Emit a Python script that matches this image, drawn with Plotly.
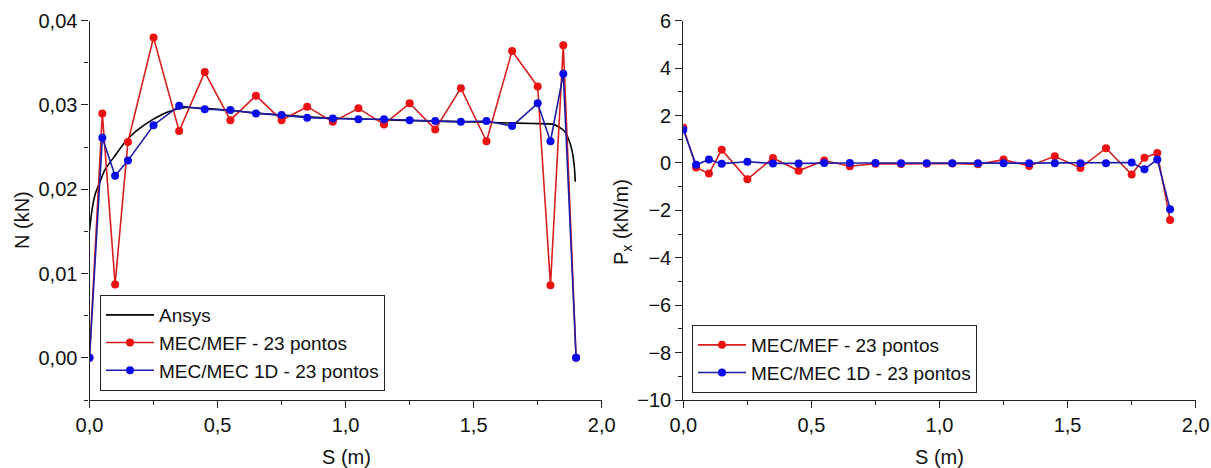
import plotly.graph_objects as go

# ---------------- data ----------------
s_pts = [0.0, 0.05, 0.10, 0.15, 0.25, 0.35, 0.45, 0.55, 0.65, 0.75, 0.85, 0.95,
         1.05, 1.15, 1.25, 1.35, 1.45, 1.55, 1.65, 1.75, 1.80, 1.85, 1.90]

n_mef = [0.0, 0.0290, 0.0087, 0.0256, 0.0380, 0.0269, 0.0339, 0.0282, 0.0311, 0.0282,
         0.0298, 0.0280, 0.0296, 0.0277, 0.0302, 0.0271, 0.0320, 0.0257, 0.0364, 0.0322,
         0.0086, 0.0371, 0.0]
n_mec = [0.0, 0.0261, 0.0216, 0.0234, 0.0276, 0.0299, 0.0295, 0.0294, 0.0290, 0.0288,
         0.0285, 0.0284, 0.0283, 0.0283, 0.0282, 0.0281, 0.0280, 0.0281, 0.0275, 0.0302,
         0.0257, 0.0337, 0.0]

ansys_s = [0.0, 0.0085, 0.021, 0.041, 0.06, 0.10, 0.139, 0.178, 0.243, 0.308, 0.373,
           0.45, 0.6, 0.75, 0.9, 1.1, 1.3, 1.5, 1.604, 1.734, 1.812, 1.851, 1.870,
           1.884, 1.893, 1.897]
ansys_n = [0.0151, 0.0173, 0.0193, 0.0209, 0.0223, 0.0240, 0.0256, 0.0268, 0.0282,
           0.0292, 0.0297, 0.0296, 0.0292, 0.0288, 0.0285, 0.0283, 0.0281, 0.0280,
           0.0279, 0.0278, 0.0277, 0.0270, 0.0260, 0.0246, 0.0227, 0.0209]

px_mef = [1.50, -0.19, -0.45, 0.56, -0.69, 0.21, -0.33, 0.10, -0.14, -0.03, -0.04, -0.03,
          -0.02, -0.06, 0.14, -0.13, 0.28, -0.21, 0.62, -0.49, 0.22, 0.42, -2.41]
px_mec = [1.40, -0.08, 0.14, -0.03, 0.05, -0.02, -0.02, 0.0, 0.0, 0.0, -0.01, -0.01,
          -0.01, -0.01, -0.01, -0.01, -0.01, -0.01, -0.01, 0.02, -0.27, 0.15, -1.95]

x_ticks = [0.0, 0.5, 1.0, 1.5, 2.0]
x_ticktext = ["0,0", "0,5", "1,0", "1,5", "2,0"]
n_ticks = [0.0, 0.01, 0.02, 0.03, 0.04]
n_ticktext = ["0,00", "0,01", "0,02", "0,03", "0,04"]
px_ticks = [-10, -8, -6, -4, -2, 0, 2, 4, 6]

# ---------------- style ----------------
FONT = "Liberation Sans, Arial, sans-serif"
RED_L, RED_M = "#d81e1e", "#ee1111"
BLUE_L, BLUE_M = "#1c1ca8", "#0a0aee"
W, H = 1211, 468
FS = 20
FL = 19

fig = go.Figure()

fig.add_trace(go.Scatter(x=ansys_s, y=ansys_n, mode="lines", name="Ansys",
                         line=dict(color="black", width=1.6, shape="spline", smoothing=0.6),
                         xaxis="x", yaxis="y", legend="legend"))
fig.add_trace(go.Scatter(x=s_pts, y=n_mef, mode="lines+markers", name="MEC/MEF - 23 pontos",
                         line=dict(color=RED_L, width=1.6), marker=dict(color=RED_M, size=8),
                         xaxis="x", yaxis="y", legend="legend"))
fig.add_trace(go.Scatter(x=s_pts, y=n_mec, mode="lines+markers", name="MEC/MEC 1D - 23 pontos",
                         line=dict(color=BLUE_L, width=1.6), marker=dict(color=BLUE_M, size=8),
                         xaxis="x", yaxis="y", legend="legend"))

fig.add_trace(go.Scatter(x=s_pts, y=px_mef, mode="lines+markers", name="MEC/MEF - 23 pontos",
                         line=dict(color=RED_L, width=1.6), marker=dict(color=RED_M, size=8),
                         xaxis="x2", yaxis="y2", legend="legend2"))
fig.add_trace(go.Scatter(x=s_pts, y=px_mec, mode="lines+markers", name="MEC/MEC 1D - 23 pontos",
                         line=dict(color=BLUE_L, width=1.6), marker=dict(color=BLUE_M, size=8),
                         xaxis="x2", yaxis="y2", legend="legend2"))

y_dom = [1 - 400 / H, 1 - 20.7 / H]

axis_common = dict(showgrid=False, zeroline=False, showline=True, linecolor="#222",
                   linewidth=1.2, ticks="outside", ticklen=7, tickcolor="#222", tickwidth=1.2,
                   tickfont=dict(family=FONT, size=FS, color="#111"), mirror=False,
                   automargin=False)

fig.update_layout(
    width=W, height=H,
    margin=dict(l=0, r=0, t=0, b=0, autoexpand=False),
    plot_bgcolor="white", paper_bgcolor="white",
    font=dict(family=FONT, color="#111"),
    xaxis=dict(domain=[89.5 / W, 601.7 / W], range=[0, 2.0], tickvals=x_ticks,
               ticktext=x_ticktext, anchor="y",
               minor=dict(dtick=0.25, tick0=0, ticks="outside", ticklen=4, tickcolor="#222"),
               **axis_common),
    yaxis=dict(domain=y_dom, range=[-0.005, 0.04], tickvals=n_ticks, ticktext=n_ticktext,
               anchor="x",
               minor=dict(dtick=0.005, tick0=0, ticks="outside", ticklen=4, tickcolor="#222"),
               **axis_common),
    xaxis2=dict(domain=[683.3 / W, 1195.7 / W], range=[0, 2.0], tickvals=x_ticks,
                ticktext=x_ticktext, anchor="y2",
                minor=dict(dtick=0.25, tick0=0, ticks="outside", ticklen=4, tickcolor="#222"),
                **axis_common),
    yaxis2=dict(domain=y_dom, range=[-10, 6], tickvals=px_ticks, anchor="x2",
                minor=dict(dtick=1, tick0=0, ticks="outside", ticklen=4, tickcolor="#222"),
                **axis_common),
    legend=dict(x=100 / W, y=1 - 391 / H, xanchor="left", yanchor="bottom",
                bgcolor="white", bordercolor="#222", borderwidth=1,
                font=dict(family=FONT, size=FL, color="#111"), itemwidth=48,
                tracegroupgap=0, traceorder="normal"),
    legend2=dict(x=692 / W, y=1 - 393 / H, xanchor="left", yanchor="bottom",
                 bgcolor="white", bordercolor="#222", borderwidth=1,
                 font=dict(family=FONT, size=FL, color="#111"), itemwidth=48,
                 tracegroupgap=0, traceorder="normal"),
    showlegend=True,
)

ann_font = dict(family=FONT, size=FS, color="#111")
fig.add_annotation(text="N (kN)", x=22 / W, y=1 - 220 / H, xref="paper", yref="paper",
                   xanchor="center", yanchor="middle",
                   textangle=-90, showarrow=False, font=ann_font)
fig.add_annotation(text="P<sub>x</sub> (kN/m)", x=622 / W, y=1 - 222 / H, xref="paper",
                   yref="paper", xanchor="center", yanchor="middle",
                   textangle=-90, showarrow=False, font=ann_font)
fig.add_annotation(text="S (m)", x=346 / W, y=1 - 457 / H, xref="paper", yref="paper",
                   xanchor="center", yanchor="middle", showarrow=False, font=ann_font)
fig.add_annotation(text="S (m)", x=939 / W, y=1 - 457 / H, xref="paper", yref="paper",
                   xanchor="center", yanchor="middle", showarrow=False, font=ann_font)

fig.write_html("out.html")
